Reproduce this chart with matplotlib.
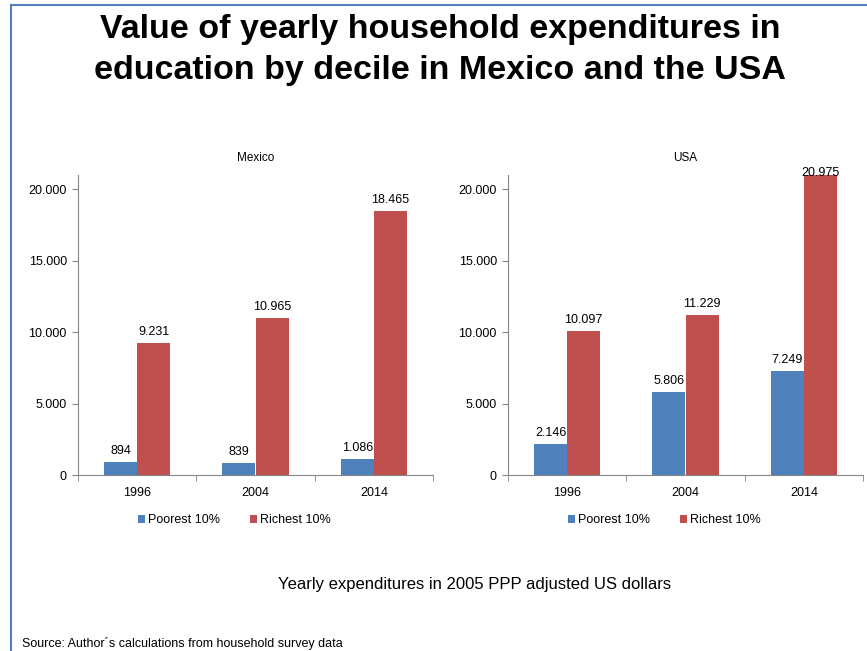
import numpy as np
import matplotlib
matplotlib.use("Agg")
import matplotlib.pyplot as plt
from matplotlib.ticker import FuncFormatter

plt.rcParams['font.family'] = ['Liberation Sans', 'DejaVu Sans']

# Yearly household education spending, 2005 PPP US dollars
years = ['1996', '2004', '2014']
mexico_poorest = [894, 839, 1086]
mexico_richest = [9231, 10965, 18465]
usa_poorest = [2146, 5806, 7249]
usa_richest = [10097, 11229, 20975]
series_names = ['Poorest 10%', 'Richest 10%']

BLUE = '#4F81BD'
RED = '#C0504D'
AXIS_GREY = '#868686'
Y_TOP = 21000


def dotted(v):
    # thousands separated with a period
    return f"{int(round(v)):,}".replace(',', '.')


def draw_panel(ax, title, poorest, richest):
    x = np.arange(len(years))
    w = 0.28
    b1 = ax.bar(x - w / 2, poorest, w, color=BLUE, label=series_names[0])
    b2 = ax.bar(x + w / 2, richest, w, color=RED, label=series_names[1])
    for bars, vals in ((b1, poorest), (b2, richest)):
        for rect, v in zip(bars, vals):
            # keep labels inside the plot area
            y = min(v + 350, Y_TOP - 300)
            ax.text(rect.get_x() + rect.get_width() / 2, y, dotted(v),
                    ha='center', va='bottom', fontsize=9)

    ax.set_xlim(-0.5, len(years) - 0.5)
    ax.set_ylim(0, Y_TOP)
    ax.set_yticks([0, 5000, 10000, 15000, 20000])
    ax.yaxis.set_major_formatter(FuncFormatter(lambda v, p: dotted(v)))
    ax.set_xticks(x)
    ax.set_xticklabels(years)
    ax.set_xticks(np.arange(len(years) + 1) - 0.5, minor=True)
    ax.tick_params(axis='x', which='major', length=0, labelsize=9, pad=9)
    ax.tick_params(axis='x', which='minor', length=4, color=AXIS_GREY, direction='out')
    ax.tick_params(axis='y', length=4, color=AXIS_GREY, direction='out', labelsize=9, pad=4)
    for side in ('top', 'right'):
        ax.spines[side].set_visible(False)
    for side in ('left', 'bottom'):
        ax.spines[side].set_color(AXIS_GREY)
    ax.set_title(title, fontsize=8.5, pad=10)
    ax.legend(loc='upper center', bbox_to_anchor=(0.44, -0.093), ncol=2, frameon=False,
              fontsize=9, handlelength=0.6, handleheight=0.6, handletextpad=0.2,
              columnspacing=2.4)


fig = plt.figure(figsize=(8.67, 6.51), dpi=100)

# frame line along the top and left edges
fig.add_artist(plt.Line2D([11 / 867, 11 / 867], [0, 1 - 5 / 651],
                          transform=fig.transFigure, color=BLUE, lw=1.5))
fig.add_artist(plt.Line2D([11 / 867, 1], [1 - 5 / 651, 1 - 5 / 651],
                          transform=fig.transFigure, color=BLUE, lw=1.5))

# two-line bold heading, one text per line
fig.text(0.508, 1 - 38 / 651, 'Value of yearly household expenditures in',
         ha='center', va='baseline', fontsize=24.5, fontweight='bold')
fig.text(0.508, 1 - 79 / 651, 'education by decile in Mexico and the USA',
         ha='center', va='baseline', fontsize=24.5, fontweight='bold')

ax_mx = fig.add_axes([78 / 867, 176 / 651, 355 / 867, 300 / 651])
ax_us = fig.add_axes([508 / 867, 176 / 651, 355 / 867, 300 / 651])
draw_panel(ax_mx, 'Mexico', mexico_poorest, mexico_richest)
draw_panel(ax_us, 'USA', usa_poorest, usa_richest)

fig.text(475 / 867, 1 - 584 / 651, 'Yearly expenditures in 2005 PPP adjusted US dollars',
         ha='center', va='center', fontsize=12)
fig.text(22 / 867, 1 - 644 / 651, 'Source: Author\u00b4s calculations from household survey data',
         ha='left', va='center', fontsize=9)

fig.savefig('out.png', dpi=100)
